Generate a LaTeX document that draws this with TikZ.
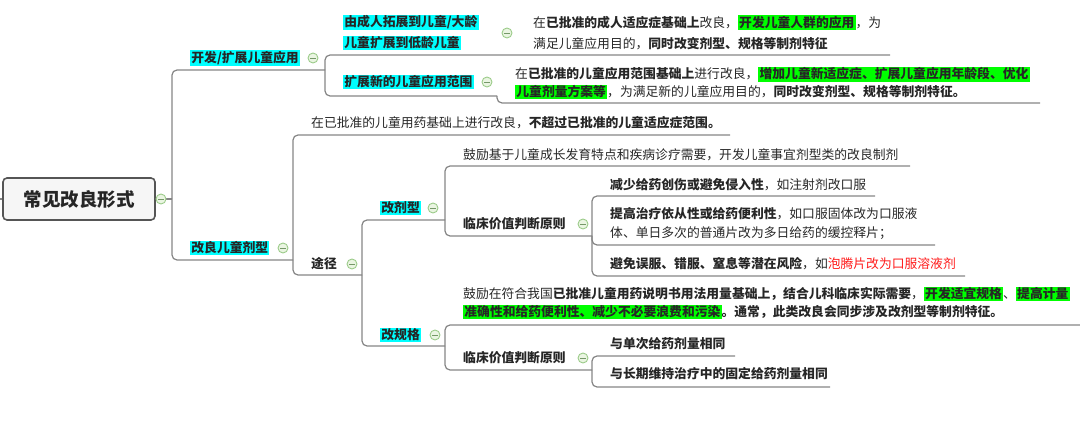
\documentclass[tikz,border=0pt]{standalone}
\usepackage{fontspec}
\setmainfont{Noto Sans CJK SC}
\definecolor{ln}{HTML}{858585}
\definecolor{hlcyan}{HTML}{00FFFF}
\definecolor{hlgreen}{HTML}{00FF00}
\definecolor{txt}{HTML}{262626}
\definecolor{redt}{HTML}{FF1A1A}
\definecolor{cfill}{HTML}{EAF5E2}
\definecolor{cdraw}{HTML}{9CCB8A}
\definecolor{rootdraw}{HTML}{555555}
\definecolor{rootfill}{HTML}{F6F6F6}
\newcommand\hlc[1]{{\setlength\fboxsep{1.2pt}\colorbox{hlcyan}{#1}}}
\newcommand\hlg[1]{{\setlength\fboxsep{1.2pt}\colorbox{hlgreen}{#1}}}
\tikzset{
  every node/.style={inner sep=0pt, text=txt},
  t/.style={anchor=west, align=left, font=\fontsize{12.8}{19}\selectfont},
  lbl/.style={anchor=west, align=left, font=\fontsize{12.8}{21}\selectfont\bfseries},
  conn/.style={draw=ln, line width=1.2pt, rounded corners=5pt},
  fold/.style={circle, draw=cdraw, fill=cfill, minimum size=10pt, line width=0.9pt,
    path picture={\draw[cdraw!75!black, line width=0.8pt]
      ([xshift=-2.6pt]path picture bounding box.center) -- ([xshift=2.6pt]path picture bounding box.center);}}
}
\begin{document}
\begin{tikzpicture}[x=1pt, y=-1pt]
\useasboundingbox (0,0) rectangle (1080,425);

% root
\node[draw=rootdraw, fill=rootfill, line width=1.6pt, rounded corners=4pt,
  minimum width=152pt, minimum height=42pt, font=\fontsize{18.5}{18.5}\selectfont\bfseries] (root) at (79,199) {常见改良形式};
\coordinate (stub) at (0,199);
\coordinate (j0) at (172,199);

% branch A
\node[lbl] (A) at (190,58) {\hlc{开发/扩展儿童应用}};
\coordinate (jA) at (325,70);
\node[lbl] (A1) at (343,32.5) {\hlc{由成人拓展到儿童/大龄}\\\hlc{儿童扩展到低龄儿童}};
\node[t, font=\fontsize{12.8}{21}\selectfont] (L1) at (533,32.5) {在\textbf{已批准的成人适应症基础上}改良，\hlg{\textbf{开发儿童人群的应用}}，为\\满足儿童应用目的，\textbf{同时改变剂型、规格等制剂特征}};
\coordinate (eA1) at (890,55);
\node[lbl] (A2) at (343,82) {\hlc{扩展新的儿童应用范围}};
\coordinate (jA2) at (497,96);
\node[t, font=\fontsize{12.8}{18}\selectfont] (L2) at (515,83) {在\textbf{已批准的儿童应用范围基础上}进行改良，\hlg{\textbf{增加儿童新适应症、扩展儿童应用年龄段、优化}}\\\hlg{\textbf{儿童剂量方案等}}，为满足新的儿童应用目的，\textbf{同时改变剂型、规格等制剂特征。}};
\coordinate (eA2) at (1040,103);

% branch B
\node[lbl] (B) at (190,248) {\hlc{改良儿童剂型}};
\coordinate (jB) at (293,260);
\node[t] (B1) at (311,123) {在已批准的儿童用药基础上进行改良，\textbf{不超过已批准的儿童适应症范围。}};
\coordinate (eB1) at (730,135);
\node[lbl] (B2) at (311,264) {途径};
\coordinate (jB2) at (362,275);

\node[lbl] (C1) at (380,208) {\hlc{改剂型}};
\coordinate (jC1) at (445,220);
\node[t] (C1a) at (463,155) {鼓励基于儿童成长发育特点和疾病诊疗需要，开发儿童事宜剂型类的改良制剂};
\coordinate (eC1a) at (910,166);
\node[lbl] (C1b) at (463,224) {临床价值判断原则};
\coordinate (jC1b) at (592,236);
\node[t] (D1) at (610,185) {\textbf{减少给药创伤或避免侵入性}，如注射剂改口服};
\coordinate (eD1) at (875,196);
\node[t] (D2) at (610,223.5) {\textbf{提高治疗依从性或给药便利性}，如口服固体改为口服液\\体、单日多次的普通片改为多日给药的缓控释片；};
\coordinate (eD2) at (935,245);
\node[t] (D3) at (610,264) {\textbf{避免误服、错服、窒息等潜在风险}，如\textcolor{redt}{泡腾片改为口服溶液剂}};
\coordinate (eD3) at (965,276);

\node[lbl] (C2) at (380,335) {\hlc{改规格}};
\coordinate (jC2) at (445,346);
\node[t, font=\fontsize{12.8}{18}\selectfont] (C2a) at (463,303) {鼓励在符合我国\textbf{已批准儿童用药说明书用法用量基础上，结合儿科临床实际需要}，\hlg{\textbf{开发适宜规格}}、\hlg{\textbf{提高计量}}\\\hlg{\textbf{准确性和给药便利性、减少不必要浪费和污染}}\textbf{。通常，此类改良会同步涉及改剂型等制剂特征。}};
\coordinate (eC2a) at (1080,325);
\node[lbl] (C2b) at (463,358) {临床价值判断原则};
\coordinate (jC2b) at (592,370);
\node[lbl] (E1) at (610,344) {与单次给药剂量相同};
\coordinate (eE1) at (735,356);
\node[lbl] (E2) at (610,374) {与长期维持治疗中的固定给药剂量相同};
\coordinate (eE2) at (830,387);

% connectors
\draw[conn] (stub) -- (root.west);
\draw[conn] (root.east) -- (j0);
\draw[conn] (j0) |- (jA);
\draw[conn] (j0) |- (jB);
\draw[conn] (jA) |- (eA1);
\draw[conn] (jA) |- (jA2);
\draw[conn] (jA2) |- (eA2);
\draw[conn] (jB) |- (eB1);
\draw[conn] (jB) |- (jB2);
\draw[conn] (jB2) |- (jC1);
\draw[conn] (jB2) |- (jC2);
\draw[conn] (jC1) |- (eC1a);
\draw[conn] (jC1) |- (jC1b);
\draw[conn] (jC1b) |- (eD1);
\draw[conn] (jC1b) |- (eD2);
\draw[conn] (jC1b) |- (eD3);
\draw[conn] (jC2) |- (eC2a);
\draw[conn] (jC2) |- (jC2b);
\draw[conn] (jC2b) |- (eE1);
\draw[conn] (jC2b) |- (eE2);

% fold markers
\node[fold] (f0) at (161,199) {};
\node[fold] (fA) at (313,58) {};
\node[fold] (fA1) at (507,33) {};
\node[fold] (fA2) at (487,82) {};
\node[fold] (fB) at (283,248) {};
\node[fold] (fB2) at (352,264) {};
\node[fold] (fC1) at (433,208) {};
\node[fold] (fC1b) at (583,224) {};
\node[fold] (fC2) at (435,335) {};
\node[fold] (fC2b) at (583,358) {};
\end{tikzpicture}
\end{document}
